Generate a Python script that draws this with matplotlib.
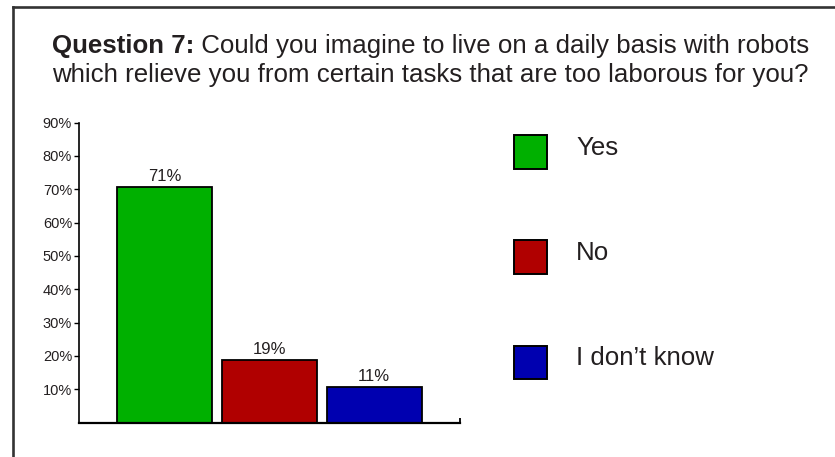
import matplotlib
matplotlib.use("Agg")
import matplotlib.pyplot as plt
from matplotlib.lines import Line2D
from matplotlib.patches import Rectangle

categories = ["Yes", "No", "I don\u2019t know"]
values = [70.6, 18.9, 10.6]
value_labels = ["71%", "19%", "11%"]
colors = ["#00B000", "#B00000", "#0000B0"]
yticks = [10, 20, 30, 40, 50, 60, 70, 80, 90]
ytick_labels = [f"{t}%" for t in yticks]
title_bold = "Question 7:"
title_rest1 = " Could you imagine to live on a daily basis with robots"
title_line2 = "which relieve you from certain tasks that are too laborous for you?"

plt.rcParams['font.family'] = ['Liberation Sans', 'DejaVu Sans']
TXT = "#231F20"

W, H = 835, 457
fig = plt.figure(figsize=(W / 100, H / 100), dpi=100)
fig.patch.set_facecolor("white")

# frame (left and top)
fig.add_artist(Line2D([12.5 / W, 12.5 / W], [0, 1 - 6.5 / H], color="#333333", lw=1.9))
fig.add_artist(Line2D([12.5 / W, 1], [1 - 6.5 / H, 1 - 6.5 / H], color="#333333", lw=1.9))

# title (centered lines)
TFS = 18.6
cx = 430.5
r = fig.canvas.get_renderer()
t1 = fig.text(0, 1 - 52.7 / H, title_bold, fontsize=TFS, fontweight="bold", color=TXT, va="baseline")
t2 = fig.text(0, 1 - 52.7 / H, title_rest1, fontsize=TFS, color=TXT, va="baseline")
w1 = t1.get_window_extent(renderer=r).width
w2 = t2.get_window_extent(renderer=r).width
start = cx - (w1 + w2) / 2
t1.set_x(start / W)
t2.set_x((start + w1) / W)
fig.text(cx / W, 1 - 81.7 / H, title_line2, fontsize=TFS, color=TXT, va="baseline", ha="center")

# axes
ax = fig.add_axes([79 / W, 1 - 422.6 / H, (460 - 79) / W, 300 / H])
x = list(range(len(categories)))
bars = ax.bar(x, values, width=0.905, color=colors, edgecolor="black", linewidth=1.3)
ax.bar_label(bars, labels=value_labels, padding=2, fontsize=12, color=TXT)
ax.set_ylim(0, 90)
ax.set_xlim(-0.82, 2.82)
ax.set_yticks(yticks)
ax.set_yticklabels(ytick_labels, fontsize=10.5, color=TXT)
ax.set_xticks([2.82])
ax.set_xticklabels([""])
ax.tick_params(axis="y", direction="out", length=3.5, width=1, pad=1.5)
ax.tick_params(axis="x", direction="in", length=3.5, width=1.3)
for s in ["top", "right"]:
    ax.spines[s].set_visible(False)
ax.spines["left"].set_linewidth(1.2)
ax.spines["bottom"].set_linewidth(1.6)
ax.patch.set_alpha(0)

# legend (manual)
for i, (cat, col) in enumerate(zip(categories, colors)):
    top = 135 + 105.3 * i
    fig.add_artist(Rectangle((513.5 / W, 1 - (top + 33.5) / H), 33.5 / W, 33.5 / H,
                             facecolor=col, edgecolor="black", lw=1.4, transform=fig.transFigure))
    fig.text(576 / W, 1 - (top + 19.8) / H, cat, fontsize=18.6, color=TXT, va="baseline")

fig.savefig("out.png", dpi=100)
